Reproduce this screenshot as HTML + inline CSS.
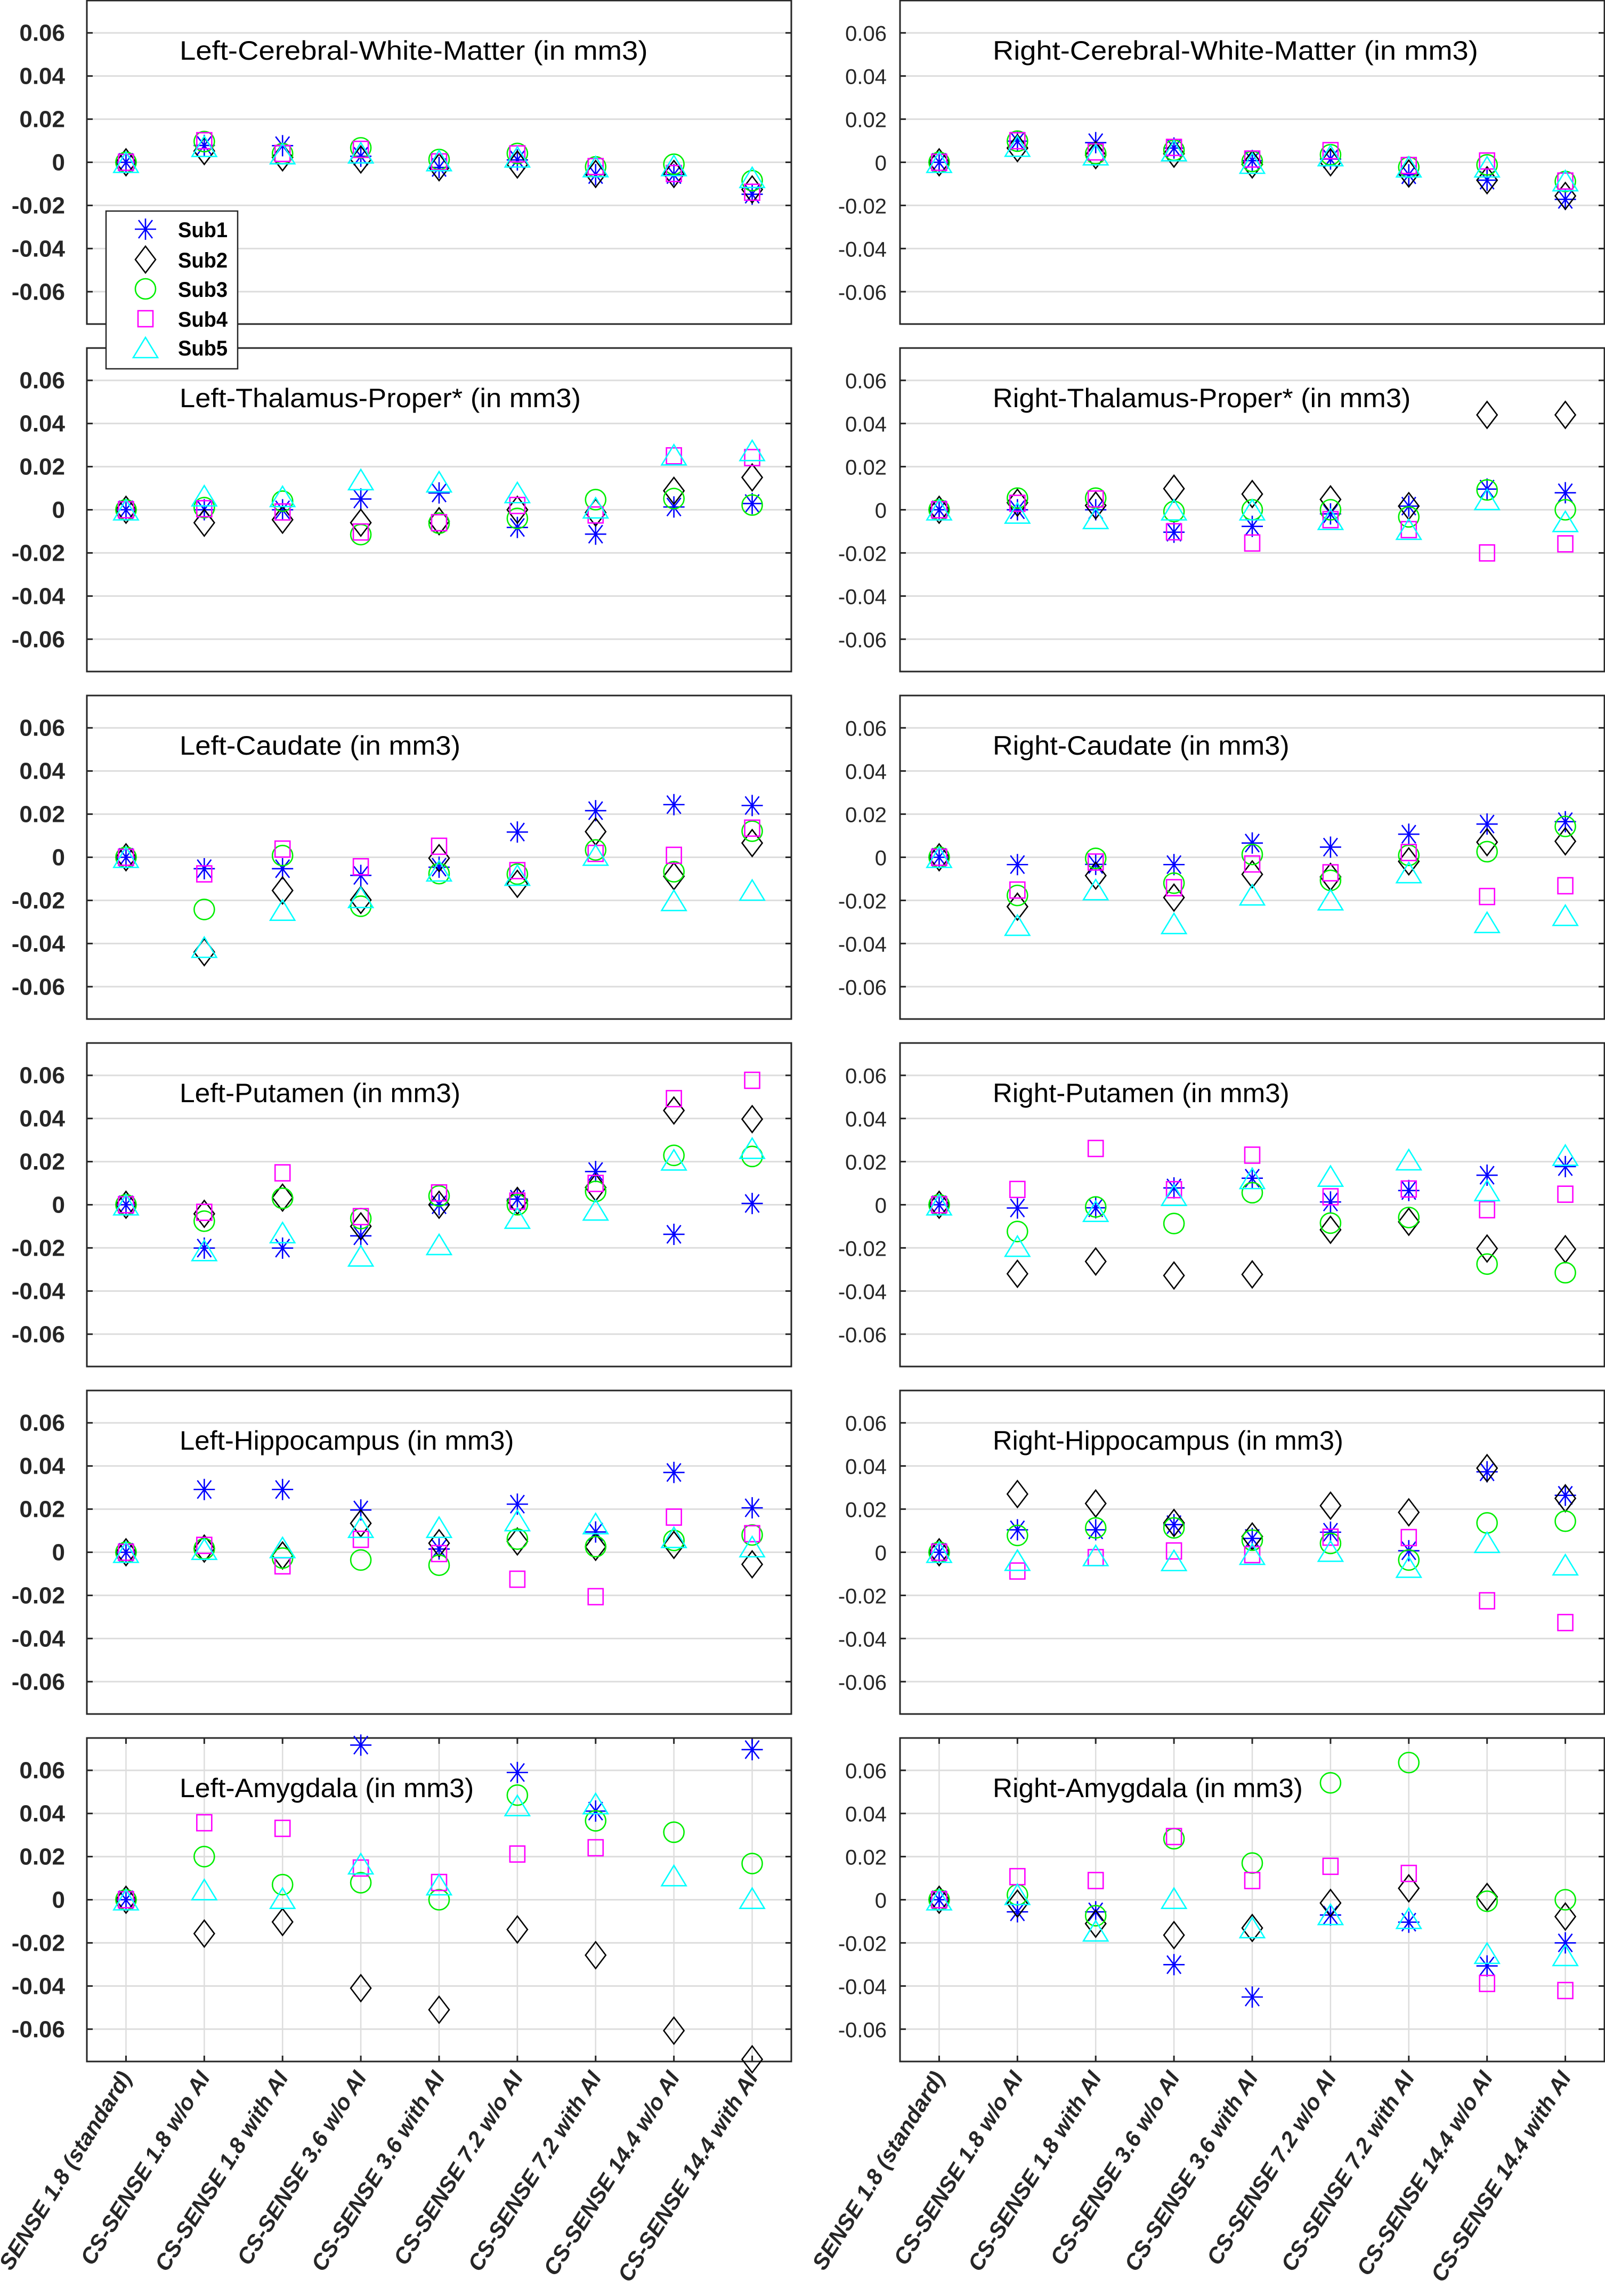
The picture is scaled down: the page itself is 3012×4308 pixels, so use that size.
<!DOCTYPE html>
<html>
<head>
<meta charset="utf-8">
<style>
html,body{margin:0;padding:0;background:#fff;}
svg{display:block;font-family:"Liberation Sans",sans-serif;}
</style>
</head>
<body>
<svg id="fig" width="3012" height="4308" viewBox="0 0 3012 4308" xmlns="http://www.w3.org/2000/svg"></svg>
<script>
const categories = ["SENSE 1.8 (standard)","CS-SENSE 1.8 w/o AI","CS-SENSE 1.8 with AI","CS-SENSE 3.6 w/o AI","CS-SENSE 3.6 with AI","CS-SENSE 7.2 w/o AI","CS-SENSE 7.2 with AI","CS-SENSE 14.4 w/o AI","CS-SENSE 14.4 with AI"];
const subjects = ["Sub1","Sub2","Sub3","Sub4","Sub5"];
const yTicks = [0.06,0.04,0.02,0,-0.02,-0.04,-0.06];
const yTickLabels = ["0.06","0.04","0.02","0","-0.02","-0.04","-0.06"];
const panelTitles = ["Left-Cerebral-White-Matter (in mm3)","Right-Cerebral-White-Matter (in mm3)","Left-Thalamus-Proper* (in mm3)","Right-Thalamus-Proper* (in mm3)","Left-Caudate (in mm3)","Right-Caudate (in mm3)","Left-Putamen (in mm3)","Right-Putamen (in mm3)","Left-Hippocampus (in mm3)","Right-Hippocampus (in mm3)","Left-Amygdala (in mm3)","Right-Amygdala (in mm3)"];

const leftCWM = [
 [0,0.0078,0.0077,0.0028,-0.0024,0.0011,-0.0057,-0.0057,-0.0148],
 [0,0.0052,0.0023,0.0013,-0.0023,-0.001,-0.0054,-0.0054,-0.0126],
 [0,0.0096,0.004,0.0067,0.0013,0.0041,-0.0021,-0.0009,-0.0085],
 [0,0.01,0.0041,0.006,0.0002,0.0039,-0.002,-0.0052,-0.0139],
 [0,0.0074,0.004,0.0044,0.0008,0.0025,-0.002,-0.0015,-0.007]];
const rightCWM = [
 [0,0.0098,0.0091,0.0066,0.0008,0.0015,-0.0058,-0.0083,-0.0172],
 [0,0.0066,0.0033,0.004,-0.001,0,-0.0052,-0.0083,-0.0156],
 [0,0.0098,0.004,0.0056,0.0004,0.0035,-0.0023,-0.0012,-0.0089],
 [0,0.01,0.0048,0.0069,0.0015,0.0054,-0.0015,0.0006,-0.0087],
 [0,0.0075,0.0035,0.0054,-0.0004,0.0031,-0.0021,-0.0021,-0.0085]];
const leftThal = [
 [0,0,0,0.005,0.0078,-0.0082,-0.0113,0.0013,0.0029],
 [0,-0.006,-0.0046,-0.006,-0.0053,0,-0.0013,0.0088,0.015],
 [0,0.001,0.004,-0.0115,-0.0062,-0.004,0.0047,0.0052,0.0022],
 [0,0.0005,-0.001,-0.0103,-0.006,0.002,-0.0024,0.025,0.0242],
 [0,0.0065,0.0062,0.014,0.013,0.008,0.0009,0.0255,0.0275]];
const rightThal = [
 [0,0,0,-0.0104,-0.0077,-0.0019,0.0017,0.0096,0.0079],
 [0,0.0033,0.002,0.0098,0.0073,0.0048,0.0017,0.044,0.044],
 [0,0.0054,0.0054,-0.0008,0,0,-0.0033,0.0092,0],
 [0,0.003,0.005,-0.0102,-0.0154,-0.0046,-0.0092,-0.02,-0.0158],
 [0,-0.0015,-0.004,0,0,-0.0044,-0.009,0.0048,-0.0054]];
const leftCaud = [
 [0,-0.0053,-0.0053,-0.0084,-0.0046,0.0117,0.0216,0.0244,0.024],
 [0,-0.044,-0.0154,-0.0198,-0.0004,-0.0123,0.0119,-0.0088,0.0066],
 [0,-0.0242,0.0008,-0.0227,-0.0076,-0.0078,0.0034,-0.0067,0.0121],
 [0,-0.0077,0.0038,-0.0044,0.0051,-0.0062,0.0018,0.0009,0.0135],
 [0,-0.0417,-0.0245,-0.0186,-0.0063,-0.0083,0.001,-0.02,-0.0152]];
const rightCaud = [
 [0,-0.0034,-0.0033,-0.0034,0.0066,0.0047,0.0107,0.0154,0.0165],
 [0,-0.0229,-0.0085,-0.0187,-0.0079,-0.0091,-0.0019,0.007,0.0074],
 [0,-0.0177,-0.0005,-0.012,0.0013,-0.0107,0.0009,0.0026,0.0143],
 [0,-0.0152,-0.0022,-0.0141,-0.0031,-0.0072,0.0022,-0.0182,-0.0132],
 [0,-0.0315,-0.015,-0.0307,-0.0174,-0.0197,-0.0071,-0.0302,-0.0269]];
const leftPut = [
 [0,-0.0201,-0.0201,-0.0144,0,0.0026,0.0154,-0.0137,0.0006],
 [0,-0.0042,0.0033,-0.01,0,0.0018,0.008,0.0437,0.0397],
 [0,-0.0076,0.003,-0.0064,0.0041,0,0.0062,0.0229,0.0224],
 [0,-0.0035,0.0148,-0.0055,0.0055,0.0017,0.0099,0.0492,0.0577],
 [0,-0.0212,-0.0129,-0.0237,-0.0184,-0.0062,-0.0024,0.0208,0.0262]];
const rightPut = [
 [0,-0.0015,-0.0014,0.0078,0.0123,0.0013,0.0066,0.0137,0.0177],
 [0,-0.032,-0.0263,-0.0328,-0.0323,-0.0116,-0.0079,-0.0203,-0.0206],
 [0,-0.0124,-0.001,-0.0087,0.0056,-0.0085,-0.0059,-0.0275,-0.0315],
 [0,0.0071,0.0261,0.007,0.023,0.0037,0.0073,-0.0023,0.0049],
 [0,-0.0192,-0.003,0.0044,0.0122,0.0133,0.0209,0.0066,0.023]];
const leftHip = [
 [0,0.0291,0.0291,0.0196,0.0015,0.0223,0.0094,0.037,0.0206],
 [0,0.0017,-0.0015,0.0134,0.0042,0.005,0.0025,0.0034,-0.0056],
 [0,0.0016,-0.0027,-0.0036,-0.006,0.0061,0.0026,0.0055,0.008],
 [0,0.0032,-0.0063,0.006,-0.0006,-0.0125,-0.0206,0.0163,0.0086],
 [0,0.0014,0.0022,0.0116,0.0116,0.0147,0.0133,0.0069,0.0026]];
const rightHip = [
 [0,0.0104,0.0104,0.0128,0.0064,0.0093,0.0007,0.0373,0.0264],
 [0,0.027,0.0226,0.0136,0.0073,0.0216,0.0185,0.039,0.025],
 [0,0.0078,0.0113,0.0113,0.0056,0.0041,-0.0036,0.0136,0.0144],
 [0,-0.0087,-0.0025,0.0006,-0.0011,0.007,0.0068,-0.0225,-0.0326],
 [0,-0.0037,-0.0015,-0.0038,-0.0009,0.0005,-0.0069,0.0046,-0.0058]];
const leftAmyg = [
 [0,null,null,0.0717,null,0.059,0.0411,null,0.0696],
 [0,-0.0157,-0.0103,-0.041,-0.051,-0.0138,-0.0257,-0.0607,-0.074],
 [0,0.02,0.007,0.0079,0,0.0485,0.0366,0.0313,0.0168],
 [0,0.0357,0.0331,0.0147,0.008,0.0212,0.0241,null,null],
 [0,0.0047,0.0007,0.0167,0.007,0.0437,0.0446,0.0112,0.0007]];
const rightAmyg = [
 [0,-0.0056,-0.0056,-0.0301,-0.0451,-0.0071,-0.0104,-0.0307,-0.02],
 [0,-0.0018,-0.0111,-0.0164,-0.0131,-0.0015,0.0053,0.0013,-0.0078],
 [0,0.0023,-0.0074,0.0283,0.017,0.0542,0.0636,-0.0007,0],
 [0,0.0107,0.0089,0.0293,0.0089,0.0155,0.0122,-0.0388,-0.0421],
 [0,0.0025,-0.0144,0.0007,-0.0129,-0.0068,-0.0086,-0.0248,-0.0258]];

const panelData = [leftCWM,rightCWM,leftThal,rightThal,leftCaud,rightCaud,leftPut,rightPut,leftHip,rightHip,leftAmyg,rightAmyg];
const panelNames = ["left-cerebral-white-matter","right-cerebral-white-matter","left-thalamus","right-thalamus","left-caudate","right-caudate","left-putamen","right-putamen","left-hippocampus","right-hippocampus","left-amygdala","right-amygdala"];

const NS = "http://www.w3.org/2000/svg";
const svg = document.getElementById("fig");
const colors = ["#0000ff","#000000","#00ee00","#ff00ff","#00ffff"];
const YMIN = -0.075, YMAX = 0.075, PH = 607;
const colX = [163, 1689], PW = 1322;

function mk(tag, attrs, parent){
  const e = document.createElementNS(NS, tag);
  for (const k in attrs) e.setAttribute(k, attrs[k]);
  (parent||svg).appendChild(e);
  return e;
}
function xScale(col, i){ return colX[col] + (i + 0.5) / 9 * PW; }
function yScale(top, v){ return top + (YMAX - v) / (YMAX - YMIN) * PH; }

function marker(g, s, cx, cy){
  const c = colors[s];
  const sw = 2.6;
  let e;
  if (s === 0){
    e = mk("path", {d:`M${cx-20},${cy}H${cx+20}M${cx},${cy-20}V${cy+20}M${cx-13},${cy-17}L${cx+13},${cy+17}M${cx-13},${cy+17}L${cx+13},${cy-17}`, stroke:c, "stroke-width":sw, fill:"none"}, g);
  } else if (s === 1){
    e = mk("path", {d:`M${cx},${cy-25}L${cx+19},${cy}L${cx},${cy+25}L${cx-19},${cy}Z`, stroke:c, "stroke-width":sw, fill:"none"}, g);
  } else if (s === 2){
    e = mk("ellipse", {cx:cx, cy:cy, rx:19, ry:19, stroke:c, "stroke-width":sw, fill:"none"}, g);
  } else if (s === 3){
    e = mk("rect", {x:cx-14, y:cy-15, width:28, height:30, stroke:c, "stroke-width":sw, fill:"none"}, g);
  } else {
    e = mk("path", {d:`M${cx},${cy-19}L${cx+23},${cy+19}L${cx-23},${cy+19}Z`, stroke:c, "stroke-width":sw, fill:"none"}, g);
  }
  return e;
}

for (let p = 0; p < 12; p++){
  const col = p % 2, row = Math.floor(p / 2);
  const top = 1 + row * 652;
  const x0 = colX[col];
  const g = mk("g", {});
  
  

  // vertical grid (bottom row only)
  if (row === 5){
    for (let i = 0; i < 9; i++){
      const vx = xScale(col, i);
      const vl = mk("line", {x1:vx, x2:vx, y1:top, y2:top+PH, stroke:"#dddddd", "stroke-width":2.5}, g);
      
      
    }
  }
  // horizontal grid + ticks + labels
  for (let t = 0; t < yTicks.length; t++){
    const gy = yScale(top, yTicks[t]);
    const gl = mk("line", {x1:x0, x2:x0+PW, y1:gy, y2:gy, stroke:"#dddddd", "stroke-width":3}, g);
    
    
    mk("line", {x1:x0, x2:x0+11, y1:gy, y2:gy, stroke:"#262626", "stroke-width":3}, g);
    mk("line", {x1:x0+PW-11, x2:x0+PW, y1:gy, y2:gy, stroke:"#262626", "stroke-width":3}, g);
    const lbl = mk("text", {x: col===0 ? x0-41 : x0-25, y: gy+15, "text-anchor":"end",
      "font-size": col===0 ? 44 : 40, "font-weight": col===0 ? "bold" : "normal", fill:"#262626"}, g);
    lbl.textContent = yTickLabels[t];
    
    
  }
  // x ticks for bottom row
  if (row === 5){
    for (let i = 0; i < 9; i++){
      const vx = xScale(col, i);
      mk("line", {x1:vx, x2:vx, y1:top, y2:top+11, stroke:"#262626", "stroke-width":3}, g);
      mk("line", {x1:vx, x2:vx, y1:top+PH-11, y2:top+PH, stroke:"#262626", "stroke-width":3}, g);
      const tx = vx + 12, ty = top + PH + 30;
      const xl = mk("text", {x:tx, y:ty, "text-anchor":"end", "font-size":42, "font-weight":"bold", "font-style":"italic", fill:"#262626", transform:`rotate(-58 ${tx} ${ty})`}, g);
      xl.textContent = categories[i];
      
      
    }
  }
  // frame
  const fr = mk("rect", {x:x0, y:top, width:PW, height:PH, fill:"none", stroke:"#262626", "stroke-width":3}, g);
  
  
  // title
  const ti = mk("text", {x:x0+174, y:top+111, "font-size":50, fill:"#000", textLength: col===0 ? (panelTitles[p].length*25.1) : (panelTitles[p].length*25.3), lengthAdjust:"spacingAndGlyphs"}, g);
  ti.textContent = panelTitles[p];
  
  
  // markers: draw in order Sub1..Sub5
  const data = panelData[p];
  for (let s = 0; s < 5; s++){
    for (let i = 0; i < 9; i++){
      const v = data[s][i];
      if (v === null || v === undefined) continue;
      const m = marker(g, s, xScale(col, i), yScale(top, v));
      
      
    }
  }
}

// legend
const lg = mk("g", {});


mk("rect", {x:199, y:396, width:247, height:296, fill:"#fff", stroke:"#262626", "stroke-width":2.5}, lg);
const legendY = [430, 487, 542, 598, 652];
for (let s = 0; s < 5; s++){
  const eg = mk("g", {}, lg);
  
  
  marker(eg, s, 273, legendY[s]);
  const t = mk("text", {x:334, y:legendY[s]+15, "font-size":40, "font-weight":"bold", fill:"#000", textLength:93, lengthAdjust:"spacingAndGlyphs"}, eg);
  t.textContent = subjects[s];
}
</script>
</body>
</html>
